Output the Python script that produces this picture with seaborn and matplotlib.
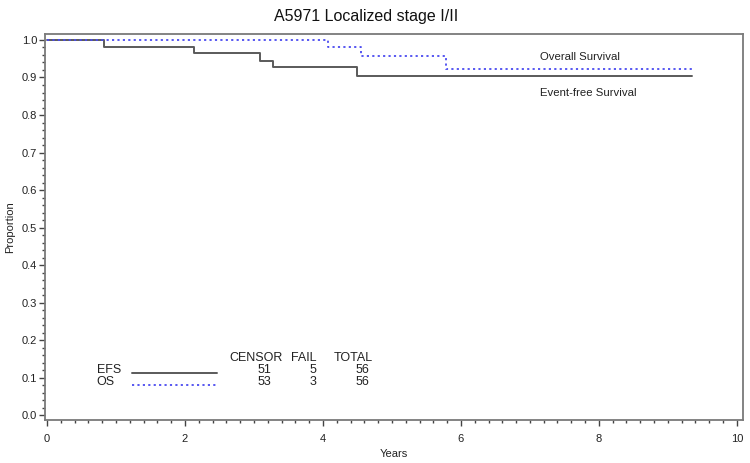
import numpy as np
import pandas as pd
import seaborn as sns
import matplotlib
matplotlib.use("Agg")
import matplotlib.pyplot as plt
from matplotlib.ticker import MultipleLocator

# Kaplan-Meier step values
efs_years = [0, 0.83, 2.13, 3.09, 3.27, 4.50, 9.35]
efs_prop = [1.0, 0.982, 0.964, 0.945, 0.927, 0.903, 0.903]
os_years = [0, 4.07, 4.55, 5.78, 9.35]
os_prop = [1.0, 0.982, 0.957, 0.922, 0.922]

# summary table
groups = ["EFS", "OS"]
censor = [51, 53]
fail = [5, 3]
total = [56, 56]

title = "A5971 Localized stage I/II"

sns.set_style("white")
plt.rcParams['font.family'] = ['Liberation Sans', 'DejaVu Sans']

efs_col = "#5a5a5a"
os_col = "#4a4af0"
txt = "#222222"

fig = plt.figure(figsize=(7.5, 4.63), dpi=100)
ax = fig.add_axes([0.06, 0.0929, 0.9307, 0.8337])

sns.lineplot(x=efs_years, y=efs_prop, drawstyle="steps-post", estimator=None,
             color=efs_col, lw=1.4, ax=ax)
sns.lineplot(x=os_years, y=os_prop, drawstyle="steps-post", estimator=None,
             color=os_col, lw=1.3, linestyle=(0, (1.2, 1.8)), ax=ax)

ax.set_xlim(-0.03, 10.09)
ax.set_ylim(-0.013, 1.016)
ax.xaxis.set_major_locator(MultipleLocator(2))
ax.xaxis.set_minor_locator(MultipleLocator(0.2))
ax.yaxis.set_major_locator(MultipleLocator(0.1))
ax.yaxis.set_minor_locator(MultipleLocator(0.02))
ax.yaxis.set_major_formatter(matplotlib.ticker.FormatStrFormatter("%.1f"))
ax.tick_params(which="major", length=4, width=1, color="#444444",
               labelsize=8, labelcolor=txt, direction="out",
               bottom=True, left=True)
ax.tick_params(which="minor", length=2, width=1, color="#444444",
               direction="out", bottom=True, left=True)
ax.tick_params(axis="x", pad=6)
ax.tick_params(axis="y", pad=1.5)
for s in ax.spines.values():
    s.set_color("#7a7a7a")
    s.set_linewidth(1.3)

ax.set_xlabel("Years", fontsize=8, color=txt, labelpad=4)
ax.set_ylabel("Proportion", fontsize=8, color=txt, labelpad=5)

fig.text(0.488, 0.965, title, ha="center", va="center", fontsize=11.5,
         color="#111111")

ax.text(7.14, 0.955, "Overall Survival", fontsize=8.2, va="center", color=txt)
ax.text(7.14, 0.859, "Event-free Survival", fontsize=8.2, va="center", color=txt)

# legend table
ts = 9
ax.text(2.64, 0.152, "CENSOR", fontsize=ts, va="center", color=txt)
ax.text(3.54, 0.152, "FAIL", fontsize=ts, va="center", color=txt)
ax.text(4.16, 0.152, "TOTAL", fontsize=ts, va="center", color=txt)
row_y = [0.12, 0.088]
styles = [dict(color=efs_col, lw=1.4), dict(color=os_col, lw=1.3, linestyle=(0, (1.2, 1.8)))]
for g, c, f, t, y, st in zip(groups, censor, fail, total, row_y, styles):
    ax.text(0.72, y, g, fontsize=ts, va="center", color=txt)
    ax.plot([1.23, 2.46], [y - 0.007, y - 0.007], **st)
    ax.text(3.25, y, str(c), fontsize=ts, va="center", ha="right", color=txt)
    ax.text(3.91, y, str(f), fontsize=ts, va="center", ha="right", color=txt)
    ax.text(4.68, y, str(t), fontsize=ts, va="center", ha="right", color=txt)

fig.savefig("out.png", dpi=100)
